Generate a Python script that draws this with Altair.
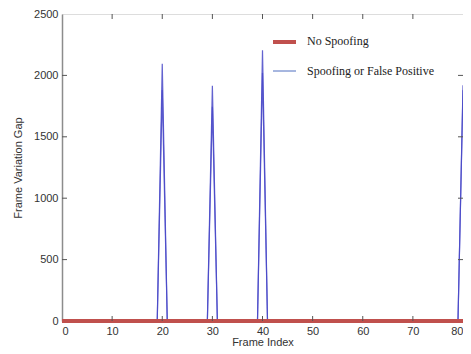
import altair as alt
import pandas as pd

# ---- data ----
frames_spoof = [0, 19, 20, 21, 29, 30, 31, 39, 40, 41, 79, 80]
gap_spoof_a = [0, 0, 2095, 0, 0, 1915, 0, 0, 2205, 0, 0, 1920]
gap_spoof_b = [0, 0, 1880, 0, 0, 1745, 0, 0, 2020, 0, 0, 1880]
frames_nospoof = [0, 80]
gap_nospoof = [0, 0]

x_ticks = [0, 10, 20, 30, 40, 50, 60, 70, 80]
y_ticks = [0, 500, 1000, 1500, 2000, 2500]
x_inner = [10, 20, 30, 40, 50, 60, 70]
y_inner = [500, 1000, 1500, 2000]

legend_labels = ["No Spoofing", "Spoofing or False Positive"]

W, H = 401, 307
RED = "#c0504d"
BLUE = "#4848c8"

spoof = pd.DataFrame({
    "frame": frames_spoof * 2,
    "gap": gap_spoof_a + gap_spoof_b,
    "trace": ["a"] * len(frames_spoof) + ["b"] * len(frames_spoof),
})
nospoof = pd.DataFrame({"frame": frames_nospoof, "gap": gap_nospoof})

xscale = alt.Scale(domain=[0, 80], nice=False, zero=False)
yscale = alt.Scale(domain=[0, 2500], nice=False)

xaxis = alt.Axis(values=x_ticks, title="Frame Index", ticks=False, domain=False, format="d",
                 labelFont="Liberation Sans", labelFontSize=11, labelColor="#333333",
                 labelPadding=4, titleFont="Liberation Sans", titleFontSize=11,
                 titleFontWeight="normal", titleColor="#333333",
                 titleBaseline="alphabetic", titleY=24, grid=False)
yaxis = alt.Axis(values=y_ticks, title="Frame Variation Gap", ticks=False, format="d",
                 domainColor="#8c8c8c", domainWidth=1.5,
                 labelFont="Liberation Sans", labelFontSize=11, labelColor="#333333",
                 labelPadding=4, titleFont="Liberation Sans", titleFontSize=11,
                 titleFontWeight="normal", titleColor="#333333", titlePadding=10, grid=False)

blue = alt.Chart(spoof).mark_line(color=BLUE, strokeWidth=1.2, opacity=0.85).encode(
    x=alt.X("frame:Q", scale=xscale, axis=xaxis),
    y=alt.Y("gap:Q", scale=yscale, axis=yaxis),
    detail="trace:N",
)

red = alt.Chart(nospoof).mark_line(color=RED, strokeWidth=4).encode(
    x=alt.X("frame:Q", scale=xscale),
    y=alt.Y("gap:Q", scale=yscale),
)

xt = pd.DataFrame({"v": x_inner})
yt = pd.DataFrame({"v": y_inner})
tick_style = dict(color="#555555", strokeWidth=1)
bot_ticks = alt.Chart(xt).mark_rule(**tick_style).encode(
    x=alt.X("v:Q", scale=xscale), y=alt.value(H), y2=alt.value(H - 5))
top_ticks = alt.Chart(xt).mark_rule(**tick_style).encode(
    x=alt.X("v:Q", scale=xscale), y=alt.value(0), y2=alt.value(5))
left_ticks = alt.Chart(yt).mark_rule(**tick_style).encode(
    y=alt.Y("v:Q", scale=yscale), x=alt.value(0), x2=alt.value(5))
right_ticks = alt.Chart(yt).mark_rule(**tick_style).encode(
    y=alt.Y("v:Q", scale=yscale), x=alt.value(W), x2=alt.value(W - 5))

leg = pd.DataFrame({"label": legend_labels})
leg_red = alt.Chart(leg.iloc[[0]]).mark_rule(color=RED, strokeWidth=4).encode(
    x=alt.value(211), x2=alt.value(234), y=alt.value(28))
leg_blue = alt.Chart(leg.iloc[[1]]).mark_rule(color="#4f6fc0", strokeWidth=1).encode(
    x=alt.value(211), x2=alt.value(234), y=alt.value(57))
leg_text1 = alt.Chart(leg.iloc[[0]]).mark_text(
    align="left", baseline="middle", font="Liberation Serif", fontSize=12, color="#222222"
).encode(x=alt.value(245), y=alt.value(27), text="label:N")
leg_text2 = alt.Chart(leg.iloc[[1]]).mark_text(
    align="left", baseline="middle", font="Liberation Serif", fontSize=12, color="#222222"
).encode(x=alt.value(245), y=alt.value(57), text="label:N")

chart = alt.layer(
    blue, red, bot_ticks, top_ticks, left_ticks, right_ticks,
    leg_red, leg_blue, leg_text1, leg_text2,
).properties(
    width=W, height=H,
    autosize=alt.AutoSizeParams(type="none"),
    padding={"left": 54, "top": 6, "right": 0, "bottom": 25},
).configure_view(stroke="#444444", strokeWidth=1).configure(background="white")

chart.save("out.html", embed_options={"renderer": "svg", "actions": False})
